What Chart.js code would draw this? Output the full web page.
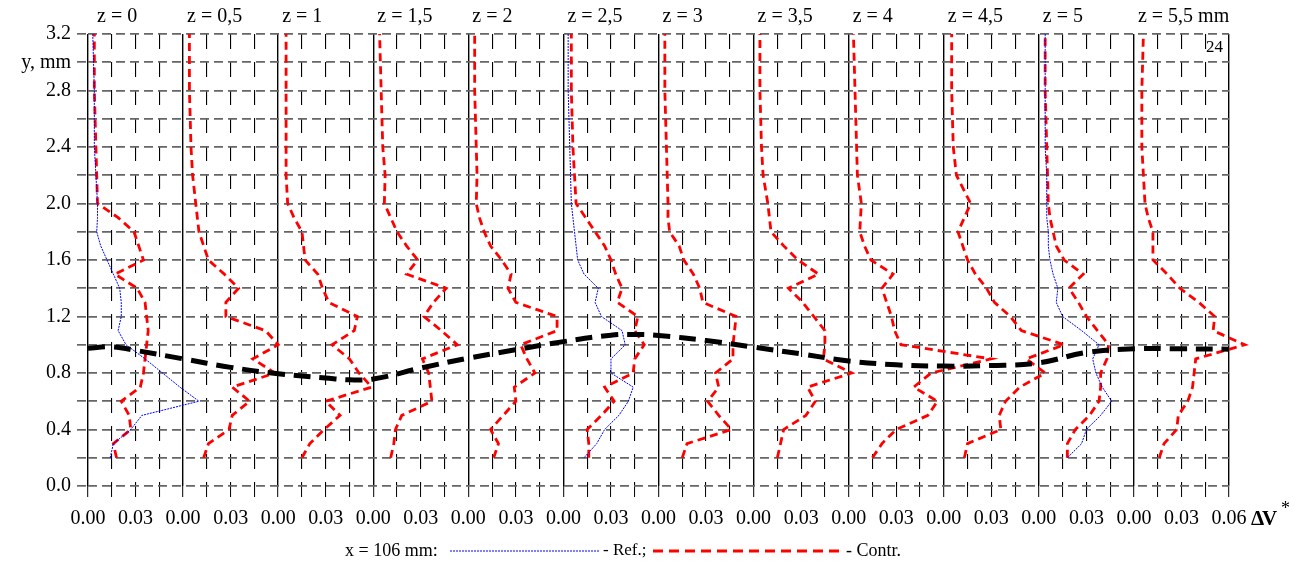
<!DOCTYPE html>
<html>
<head>
<meta charset="utf-8">
<script src="https://cdn.jsdelivr.net/npm/chart.js@4.4.1/dist/chart.umd.min.js"></script>
<style>
body { margin: 0; background: #fff; }
</style>
</head>
<body>
<canvas id="chart" width="1306" height="566"></canvas>
<script>
// panel titles, one per z position
const zLabels = ['z = 0', 'z = 0,5', 'z = 1', 'z = 1,5', 'z = 2', 'z = 2,5', 'z = 3', 'z = 3,5', 'z = 4', 'z = 4,5', 'z = 5', 'z = 5,5 mm'];
const panelWidth = 0.06;

// y levels (mm) of the measured profiles
const yLevels = [0.2, 0.3, 0.4, 0.5, 0.6, 0.7, 0.8, 0.9, 1.0, 1.1, 1.2, 1.3, 1.4, 1.5, 1.6, 1.7, 1.8, 1.9, 2.0, 2.2, 2.4, 2.8, 3.2];

// Contr. profiles (dV*), one array per z
const contrZ0  = [0.018, 0.016, 0.027, 0.026, 0.021, 0.033, 0.035, 0.036, 0.037, 0.038, 0.037, 0.036, 0.031, 0.017, 0.035, 0.032, 0.029, 0.019, 0.006, 0.0055, 0.005, 0.004, 0.004];
const contrZ05 = [0.013, 0.016, 0.029, 0.031, 0.042, 0.031, 0.058, 0.044, 0.060, 0.052, 0.027, 0.027, 0.035, 0.026, 0.016, 0.013, 0.010, 0.009, 0.008, 0.006, 0.005, 0.004, 0.004];
const contrZ1  = [0.015, 0.020, 0.029, 0.039, 0.030, 0.059, 0.051, 0.045, 0.034, 0.048, 0.050, 0.032, 0.028, 0.025, 0.017, 0.016, 0.015, 0.010, 0.006, 0.005, 0.005, 0.005, 0.005];
const contrZ15 = [0.011, 0.013, 0.014, 0.018, 0.037, 0.036, 0.035, 0.031, 0.053, 0.043, 0.032, 0.038, 0.046, 0.021, 0.028, 0.021, 0.015, 0.011, 0.007, 0.0075, 0.006, 0.005, 0.004];
const contrZ2  = [0.016, 0.019, 0.014, 0.022, 0.030, 0.029, 0.042, 0.037, 0.033, 0.056, 0.056, 0.030, 0.025, 0.027, 0.021, 0.014, 0.010, 0.007, 0.005, 0.0055, 0.005, 0.004, 0.004];
const contrZ25 = [0.016, 0.016, 0.015, 0.024, 0.032, 0.026, 0.044, 0.045, 0.051, 0.045, 0.047, 0.034, 0.037, 0.033, 0.030, 0.026, 0.020, 0.014, 0.008, 0.007, 0.006, 0.005, 0.005];
const contrZ3  = [0.015, 0.018, 0.046, 0.038, 0.031, 0.038, 0.036, 0.047, 0.047, 0.048, 0.049, 0.028, 0.026, 0.022, 0.016, 0.013, 0.007, 0.006, 0.006, 0.0055, 0.005, 0.004, 0.004];
const contrZ35 = [0.015, 0.017, 0.019, 0.033, 0.039, 0.034, 0.062, 0.044, 0.045, 0.045, 0.038, 0.031, 0.022, 0.041, 0.028, 0.019, 0.011, 0.010, 0.009, 0.006, 0.005, 0.004, 0.004];
const contrZ4  = [0.015, 0.021, 0.030, 0.050, 0.056, 0.041, 0.052, 0.090, 0.033, 0.029, 0.027, 0.024, 0.021, 0.028, 0.014, 0.010, 0.007, 0.0075, 0.008, 0.0055, 0.005, 0.004, 0.003];
const contrZ45 = [0.013, 0.015, 0.036, 0.035, 0.039, 0.048, 0.064, 0.052, 0.076, 0.049, 0.042, 0.032, 0.027, 0.020, 0.015, 0.012, 0.009, 0.013, 0.017, 0.008, 0.006, 0.005, 0.005];
const contrZ5  = [0.018, 0.018, 0.023, 0.032, 0.038, 0.039, 0.039, 0.043, 0.044, 0.037, 0.030, 0.025, 0.019, 0.028, 0.016, 0.011, 0.009, 0.007, 0.006, 0.0055, 0.005, 0.004, 0.004];
const contrZ55 = [0.016, 0.019, 0.027, 0.028, 0.034, 0.037, 0.038, 0.039, 0.070, 0.050, 0.051, 0.041, 0.029, 0.021, 0.012, 0.012, 0.012, 0.009, 0.007, 0.006, 0.005, 0.005, 0.006];

// Ref. profiles, only at z = 0, 2.5 and 5
const refZ0  = [0.014, 0.016, 0.027, 0.034, 0.070, 0.058, 0.047, 0.036, 0.024, 0.019, 0.021, 0.021, 0.020, 0.016, 0.012, 0.008, 0.0055, 0.006, 0.006, 0.005, 0.004, 0.004, 0.003];
const refZ25 = [0.013, 0.021, 0.026, 0.035, 0.041, 0.044, 0.030, 0.030, 0.039, 0.037, 0.024, 0.020, 0.022, 0.013, 0.009, 0.008, 0.007, 0.006, 0.005, 0.0045, 0.004, 0.003, 0.003];
const refZ5  = [0.018, 0.027, 0.030, 0.039, 0.046, 0.040, 0.036, 0.034, 0.038, 0.027, 0.015, 0.011, 0.012, 0.009, 0.007, 0.006, 0.006, 0.005, 0.005, 0.005, 0.004, 0.004, 0.004];

// thick black dashed curve, in whole-axis units (0 .. 0.72)
const curveX = [0.0, 0.015, 0.03, 0.06, 0.09, 0.12, 0.15, 0.165, 0.18, 0.21, 0.24, 0.27, 0.30, 0.33, 0.345, 0.36, 0.39, 0.42, 0.45, 0.48, 0.51, 0.54, 0.57, 0.60, 0.63, 0.66, 0.69, 0.72];
const curveY = [0.975, 0.985, 0.96, 0.90, 0.84, 0.795, 0.765, 0.752, 0.757, 0.835, 0.905, 0.965, 1.022, 1.068, 1.073, 1.066, 1.03, 0.983, 0.935, 0.885, 0.858, 0.849, 0.853, 0.872, 0.945, 0.972, 0.971, 0.969];

const contrAll = [contrZ0, contrZ05, contrZ1, contrZ15, contrZ2, contrZ25, contrZ3, contrZ35, contrZ4, contrZ45, contrZ5, contrZ55];
const refPanels = [[0, refZ0], [5, refZ25], [10, refZ5]];

const serif = '"Liberation Serif", "Times New Roman", serif';

function profile(values, panel) {
  return values.map((v, i) => ({ x: panel * panelWidth + v, y: yLevels[i] }));
}

const datasets = [];
datasets.push({
  label: 'interface',
  data: curveX.map((x, i) => ({ x: x, y: curveY[i] })),
  borderColor: '#000',
  borderWidth: 5,
  borderDash: [17, 9],
  tension: 0.4,
  pointRadius: 0,
  clip: false
});
refPanels.forEach(p => {
  datasets.push({
    label: 'Ref.',
    data: profile(p[1], p[0]),
    borderColor: '#0000ff',
    borderWidth: 1,
    borderDash: [2, 1],
    pointRadius: 0,
    clip: false
  });
});
contrAll.forEach((arr, i) => {
  datasets.push({
    label: 'Contr.',
    data: profile(arr, i),
    borderColor: '#ff0000',
    borderWidth: 2.8,
    borderDash: [8, 5],
    pointRadius: 0,
    clip: false
  });
});

const extraText = {
  id: 'extraText',
  afterDraw(chart) {
    const ctx = chart.ctx;
    const xs = chart.scales.x;
    ctx.save();
    ctx.fillStyle = '#000';
    ctx.font = '20px ' + serif;
    ctx.textBaseline = 'middle';
    ctx.textAlign = 'left';
    zLabels.forEach((t, i) => {
      ctx.fillText(t, xs.getPixelForValue(i * panelWidth) + (i === 0 ? 9 : 4), 17);
    });
    ctx.font = '17px ' + serif;
    ctx.fillText('24', 1206, 48);

    // axis name at the right end of the x axis
    ctx.font = 'bold 21px ' + serif;
    ctx.fillText('\u0394', 1251, 520);
    ctx.fillText('V', 1262, 520);
    ctx.font = '18px ' + serif;
    ctx.fillText('*', 1281, 509);

    // legend line
    const ly = 551;
    ctx.font = '18px ' + serif;
    ctx.fillText('x = 106 mm:', 345, ly);
    ctx.strokeStyle = '#0000ff';
    ctx.lineWidth = 1;
    ctx.setLineDash([2, 1]);
    ctx.beginPath(); ctx.moveTo(450, ly); ctx.lineTo(600, ly); ctx.stroke();
    ctx.font = '17px ' + serif;
    ctx.fillText('- Ref.;', 603, ly);
    ctx.strokeStyle = '#ff0000';
    ctx.lineWidth = 2.8;
    ctx.setLineDash([10, 6]);
    ctx.beginPath(); ctx.moveTo(653, ly); ctx.lineTo(841, ly); ctx.stroke();
    ctx.font = '18px ' + serif;
    ctx.fillText('- Contr.', 846, ly);
    ctx.restore();
  }
};

new Chart(document.getElementById('chart'), {
  type: 'line',
  data: { datasets: datasets },
  options: {
    responsive: false,
    animation: false,
    layout: { padding: { top: 34, right: 77, bottom: 0, left: 0 } },
    plugins: { legend: { display: false }, tooltip: { enabled: false } },
    scales: {
      x: {
        type: 'linear',
        min: 0,
        max: 0.72,
        afterBuildTicks: s => {
          s.ticks = [];
          for (let k = 0; k <= 48; k++) s.ticks.push({ value: k * 0.015 });
        },
        afterFit: s => { s.height = 80; },
        ticks: {
          autoSkip: false,
          maxRotation: 0,
          minRotation: 0,
          padding: 10,
          color: '#000',
          font: { family: serif, size: 20 },
          callback: (v, i) => {
            if (i % 4 === 0) return i === 48 ? '0.06' : '0.00';
            if (i % 4 === 2) return '0.03';
            return '';
          }
        },
        grid: {
          color: '#000',
          lineWidth: c => (c.index % 4 === 0 ? 1.4 : 1.1),
          tickLength: 11,
          tickColor: '#000',
          tickWidth: 1
        },
        border: {
          display: false,
          dash: c => (c.tick && c.index % 4 !== 0 ? [15, 13] : [])
        }
      },
      y: {
        type: 'linear',
        min: 0,
        max: 3.2,
        afterBuildTicks: s => {
          s.ticks = [];
          for (let k = 0; k <= 16; k++) s.ticks.push({ value: k * 0.2 });
        },
        afterFit: s => { s.width = 88; },
        ticks: {
          autoSkip: false,
          padding: 6,
          color: '#000',
          font: { family: serif, size: 20 },
          callback: (v, i) => {
            if (i === 15) return 'y, mm';
            return i % 2 === 0 ? (i * 0.2).toFixed(1) : '';
          }
        },
        grid: {
          color: '#666',
          lineWidth: 1.7,
          tickLength: 11,
          tickColor: '#666',
          tickWidth: 1.7,
          tickBorderDash: [9, 5]
        },
        border: { display: false, dash: [9, 5] }
      }
    }
  },
  plugins: [extraText]
});
</script>
</body>
</html>
